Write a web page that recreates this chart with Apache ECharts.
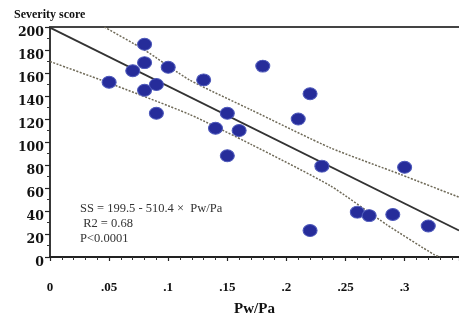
<!DOCTYPE html>
<html>
<head>
<meta charset="utf-8">
<script src="https://cdn.jsdelivr.net/npm/echarts@6/dist/echarts.min.js"></script>
<style>html,body{margin:0;padding:0;background:#fff}#c{width:459px;height:322px}</style>
</head>
<body>
<div id="c"></div>
<script>
// Data
const xTicks = [0, 0.05, 0.1, 0.15, 0.2, 0.25, 0.3];
const yTicks = [0, 20, 40, 60, 80, 100, 120, 140, 160, 180, 200];
const points = [
  [0.05, 152], [0.07, 162], [0.08, 185], [0.08, 169], [0.08, 145],
  [0.09, 150], [0.09, 125], [0.10, 165], [0.13, 154], [0.14, 112],
  [0.15, 125], [0.15, 88], [0.16, 110], [0.18, 166], [0.21, 120],
  [0.22, 142], [0.22, 23], [0.23, 79], [0.26, 39], [0.27, 36],
  [0.29, 37], [0.30, 78], [0.32, 27]
];
const regLine = [[0, 199.5], [0.346, 23]];
const upperBand = [[0.046, 200], [0.08, 180], [0.118, 154], [0.17, 128], [0.237, 95], [0.296, 72], [0.346, 52]];
const lowerBand = [[0, 170], [0.048, 152], [0.118, 124], [0.17, 98], [0.237, 62], [0.285, 28], [0.325, 2], [0.33, 0]];
const annotation = ['SS = 199.5 - 510.4 \u00D7  Pw/Pa', ' R2 = 0.68', 'P<0.0001'];

const chart = echarts.init(document.getElementById('c'), null, {renderer: 'canvas'});
const serif = 'Liberation Serif';
const fmtX = v => {
  const s = parseFloat(v.toFixed(2)).toString();
  return s === '0' ? '0' : s.replace(/^0\./, '.');
};
chart.setOption({
  animation: false,
  backgroundColor: '#fff',
  title: {
    text: 'Severity score', left: 9, top: 4,
    textStyle: {fontFamily: serif, fontWeight: 'bold', fontSize: 12, color: '#111'}
  },
  grid: {left: 50, right: 0, top: 27, bottom: 59, containLabel: false},
  xAxis: [{
    type: 'value', min: 0, max: 0.346, interval: 0.05,
    name: 'Pw/Pa', nameLocation: 'middle', nameGap: 45,
    nameTextStyle: {fontFamily: serif, fontWeight: 'bold', fontSize: 15, color: '#111'},
    axisLine: {show: true, onZero: false, lineStyle: {color: '#222', width: 1.8}},
    axisTick: {show: true, length: 4, lineStyle: {color: '#222', width: 1.2}},
    minorTick: {show: true, splitNumber: 5, length: 3, lineStyle: {color: '#333', width: 1}},
    splitLine: {show: false},
    axisLabel: {margin: 24, showMaxLabel: false, formatter: fmtX,
      fontFamily: serif, fontWeight: 'bold', fontSize: 13, color: '#111'}
  }, {
    type: 'value', position: 'top', min: 0, max: 0.346,
    axisLine: {show: true, onZero: false, lineStyle: {color: '#444', width: 1.8}},
    axisTick: {show: false}, axisLabel: {show: false}, splitLine: {show: false}
  }],
  yAxis: {
    type: 'value', min: 0, max: 200, interval: 20,
    axisLine: {show: true, onZero: false, lineStyle: {color: '#222', width: 1.8}},
    axisTick: {show: true, length: 5, lineStyle: {color: '#222', width: 1.2}},
    minorTick: {show: true, splitNumber: 2, length: 3, lineStyle: {color: '#333', width: 1}},
    splitLine: {show: false},
    axisLabel: {margin: 6, verticalAlign: 'top', lineHeight: 12,
      formatter: v => yTicks.includes(v) ? String(v) : '',
      fontFamily: 'DejaVu Serif', fontWeight: 'bold', fontSize: 12.5, color: '#111'}
  },
  graphic: annotation.map((t, i) => ({
    type: 'text', left: 80, top: 202 + i * 15,
    style: {text: t, fontFamily: serif, fontSize: 12.5, fill: '#333'}
  })),
  series: [
    {type: 'line', data: upperBand, smooth: 0.2, symbol: 'none', clip: true,
      lineStyle: {color: '#6f6a58', width: 1.5, type: [2, 1.5]}, z: 2},
    {type: 'line', data: lowerBand, smooth: 0.2, symbol: 'none', clip: true,
      lineStyle: {color: '#6f6a58', width: 1.5, type: [2, 1.5]}, z: 2},
    {type: 'line', data: regLine, symbol: 'none', clip: true,
      lineStyle: {color: '#333', width: 1.8}, z: 3},
    {type: 'scatter', data: points, symbol: 'circle', symbolSize: [14, 12],
      itemStyle: {color: '#262c9a', borderColor: '#4d58ba', borderWidth: 1, opacity: 1}, z: 5}
  ]
});
</script>
</body>
</html>
